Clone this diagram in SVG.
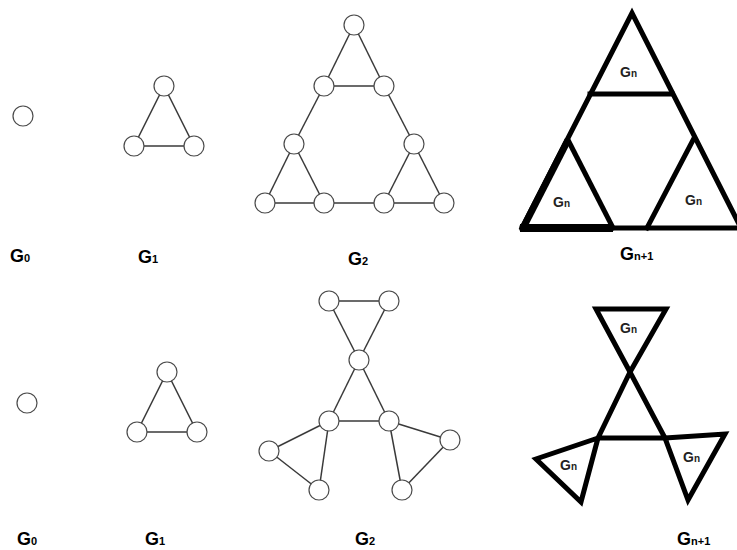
<svg xmlns="http://www.w3.org/2000/svg" width="737" height="550" viewBox="0 0 737 550">
<style>
.e{stroke:#3a3a3a;stroke-width:1.5;fill:none}
.n{fill:#fff;stroke:#4a4a4a;stroke-width:1.2}
.t{stroke:#000;stroke-width:5;fill:none;stroke-linejoin:miter;stroke-linecap:square}
.lb{font-family:"Liberation Sans",Arial,sans-serif;font-weight:bold;font-size:18px;fill:#000}
.sb{font-size:11px}
.gl{font-family:"Liberation Sans",Arial,sans-serif;font-weight:bold;font-size:14px;fill:#222}
.gs{font-size:10px}
</style>
<rect width="737" height="550" fill="#fff"/>
<g id="connectors">
<line class="e" x1="164" y1="86" x2="134" y2="146"/>
<line class="e" x1="164" y1="86" x2="194" y2="146"/>
<line class="e" x1="134" y1="146" x2="194" y2="146"/>
<line class="e" x1="354" y1="25" x2="324" y2="86"/>
<line class="e" x1="354" y1="25" x2="384" y2="86"/>
<line class="e" x1="324" y1="86" x2="384" y2="86"/>
<line class="e" x1="324" y1="86" x2="294" y2="144"/>
<line class="e" x1="384" y1="86" x2="414" y2="144"/>
<line class="e" x1="294" y1="144" x2="265" y2="203"/>
<line class="e" x1="294" y1="144" x2="324" y2="203"/>
<line class="e" x1="414" y1="144" x2="384" y2="203"/>
<line class="e" x1="414" y1="144" x2="444" y2="203"/>
<line class="e" x1="265" y1="203" x2="444" y2="203"/>
<line class="e" x1="167" y1="372" x2="137" y2="432"/>
<line class="e" x1="167" y1="372" x2="197" y2="432"/>
<line class="e" x1="137" y1="432" x2="197" y2="432"/>
<line class="e" x1="329" y1="301" x2="389" y2="301"/>
<line class="e" x1="329" y1="301" x2="359" y2="360"/>
<line class="e" x1="389" y1="301" x2="359" y2="360"/>
<line class="e" x1="359" y1="360" x2="329" y2="421"/>
<line class="e" x1="359" y1="360" x2="389" y2="421"/>
<line class="e" x1="329" y1="421" x2="389" y2="421"/>
<line class="e" x1="329" y1="421" x2="269" y2="451"/>
<line class="e" x1="329" y1="421" x2="319" y2="490"/>
<line class="e" x1="269" y1="451" x2="319" y2="490"/>
<line class="e" x1="389" y1="421" x2="450" y2="440"/>
<line class="e" x1="389" y1="421" x2="402" y2="490"/>
<line class="e" x1="450" y1="440" x2="402" y2="490"/>
</g>
<g id="top-g0"><circle id="t0" class="n" cx="23" cy="116" r="10"/></g>
<g id="top-g1">
<circle class="n" cx="164" cy="86" r="10"/>
<circle class="n" cx="134" cy="146" r="10"/>
<circle class="n" cx="194" cy="146" r="10"/>
</g>
<g id="top-g2">
<circle class="n" cx="354" cy="25" r="10"/>
<circle class="n" cx="324" cy="86" r="10"/>
<circle class="n" cx="384" cy="86" r="10"/>
<circle class="n" cx="294" cy="144" r="10"/>
<circle class="n" cx="414" cy="144" r="10"/>
<circle class="n" cx="265" cy="203" r="10"/>
<circle class="n" cx="324" cy="203" r="10"/>
<circle class="n" cx="384" cy="203" r="10"/>
<circle class="n" cx="444" cy="203" r="10"/>
</g>
<g id="bot-g0"><circle class="n" cx="27" cy="403" r="10"/></g>
<g id="bot-g1">
<circle class="n" cx="167" cy="372" r="10"/>
<circle class="n" cx="137" cy="432" r="10"/>
<circle class="n" cx="197" cy="432" r="10"/>
</g>
<g id="bot-g2">
<circle class="n" cx="329" cy="301" r="10"/>
<circle class="n" cx="389" cy="301" r="10"/>
<circle class="n" cx="359" cy="360" r="10"/>
<circle class="n" cx="329" cy="421" r="10"/>
<circle class="n" cx="389" cy="421" r="10"/>
<circle class="n" cx="269" cy="451" r="10"/>
<circle class="n" cx="319" cy="490" r="10"/>
<circle class="n" cx="450" cy="440" r="10"/>
<circle class="n" cx="402" cy="490" r="10"/>
</g>
<g id="top-gn1">
<polyline class="t" points="522,228 632,13 741,228"/>
<line class="t" x1="590" y1="94" x2="672" y2="94"/>
<polyline class="t" points="568,140 613,228"/>
<polyline class="t" points="693,140 647,228"/>
<line class="t" x1="522" y1="228" x2="737" y2="228" stroke-width="5"/>
<line x1="520" y1="228" x2="613" y2="228" stroke="#000" stroke-width="8"/>
<line x1="568" y1="140" x2="524" y2="226" stroke="#000" stroke-width="7"/>
<text class="gl" x="620" y="77">G<tspan class="gs">n</tspan></text>
<text class="gl" x="553" y="207">G<tspan class="gs">n</tspan></text>
<text class="gl" x="685" y="205">G<tspan class="gs">n</tspan></text>
</g>
<g id="bot-gn1">
<polygon class="t" points="596,309 666,309 630,372"/>
<polygon class="t" points="630,372 598,438 665,438"/>
<polygon class="t" points="598,438 536,459 581,502"/>
<polygon class="t" points="665,438 725,434 688,500"/>
<text class="gl" x="620" y="333">G<tspan class="gs">n</tspan></text>
<text class="gl" x="560" y="470">G<tspan class="gs">n</tspan></text>
<text class="gl" x="683" y="462">G<tspan class="gs">n</tspan></text>
</g>
<g id="labels">
<text class="lb" x="10" y="262">G<tspan class="sb">0</tspan></text>
<text class="lb" x="138" y="263">G<tspan class="sb">1</tspan></text>
<text class="lb" x="348" y="265">G<tspan class="sb">2</tspan></text>
<text class="lb" x="620" y="260">G<tspan class="sb">n+1</tspan></text>
<text class="lb" x="17" y="545">G<tspan class="sb">0</tspan></text>
<text class="lb" x="145" y="545">G<tspan class="sb">1</tspan></text>
<text class="lb" x="355" y="545">G<tspan class="sb">2</tspan></text>
<text class="lb" x="677" y="545">G<tspan class="sb">n+1</tspan></text>
</g>
</svg>
